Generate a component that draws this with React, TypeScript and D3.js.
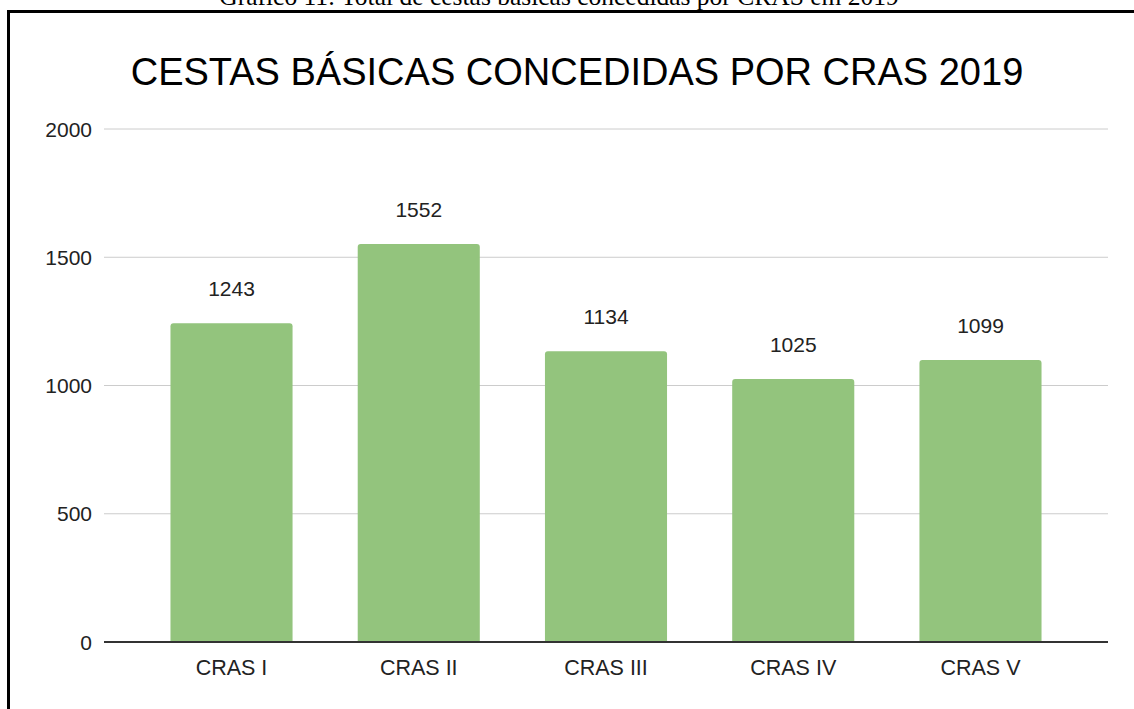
import React from "react";
import * as d3 from "d3";

const categories = ["CRAS I", "CRAS II", "CRAS III", "CRAS IV", "CRAS V"];
const values = [1243, 1552, 1134, 1025, 1099];
const yTicks = [0, 500, 1000, 1500, 2000];

const caption = "Gráfico 11: Total de cestas básicas concedidas por CRAS em 2019";
const title = "CESTAS BÁSICAS CONCEDIDAS POR CRAS 2019";

const width = 1134;
const height = 709;
const plot = { left: 104, right: 1108, top: 129, bottom: 642 };

export default function App() {
    const x = d3
        .scaleBand()
        .domain(categories)
        .range([plot.left, plot.right])
        .paddingInner(0.348)
        .paddingOuter(0.355);

    const y = d3.scaleLinear().domain([0, 2000]).range([plot.bottom, plot.top]);

    // bars with small rounded top corners
    const barPath = (x0, w, y0, y1) => {
        const r = 3;
        return `M${x0},${y1}V${y0 + r}Q${x0},${y0} ${x0 + r},${y0}H${x0 + w - r}Q${x0 + w},${y0} ${x0 + w},${y0 + r}V${y1}Z`;
    };

    const font = "'Liberation Sans', Arial, sans-serif";

    return (
        <div style={{ position: "absolute", left: 0, top: 0 }}>
            <svg width={width} height={height} style={{ display: "block" }}>
                <rect width={width} height={height} fill="#fff" />
                <text
                    x={559}
                    y={5}
                    textAnchor="middle"
                    fontFamily="'Liberation Serif', 'Times New Roman', serif"
                    fontSize={25.5}
                    fill="#000"
                >
                    {caption}
                </text>
                <path d="M8.5,720V11.5H1140" fill="none" stroke="#000" strokeWidth={3} />
                <text x={577} y={85} textAnchor="middle" fontFamily={font} fontSize={38} fill="#000">
                    {title}
                </text>
                {yTicks.map((t) => (
                    <g key={t}>
                        {t !== 0 && (
                            <line x1={plot.left} x2={plot.right} y1={y(t)} y2={y(t)} stroke="#cccccc" strokeWidth={1} />
                        )}
                        <text
                            x={92}
                            y={y(t)}
                            dy="0.36em"
                            textAnchor="end"
                            fontFamily={font}
                            fontSize={21}
                            fill="#222"
                        >
                            {t}
                        </text>
                    </g>
                ))}
                {categories.map((c, i) => {
                    const bx = x(c);
                    const top = y(values[i]);
                    return (
                        <g key={c}>
                            <path d={barPath(bx, x.bandwidth(), top, y(0))} fill="#93c47d" />
                            <text
                                x={bx + x.bandwidth() / 2}
                                y={top - 27}
                                textAnchor="middle"
                                fontFamily={font}
                                fontSize={21}
                                fill="#222"
                            >
                                {values[i]}
                            </text>
                            <text
                                x={bx + x.bandwidth() / 2}
                                y={675}
                                textAnchor="middle"
                                fontFamily={font}
                                fontSize={21.5}
                                fill="#222"
                            >
                                {c}
                            </text>
                        </g>
                    );
                })}
                <line x1={plot.left} x2={plot.right} y1={y(0)} y2={y(0)} stroke="#333" strokeWidth={2} />
            </svg>
        </div>
    );
}
